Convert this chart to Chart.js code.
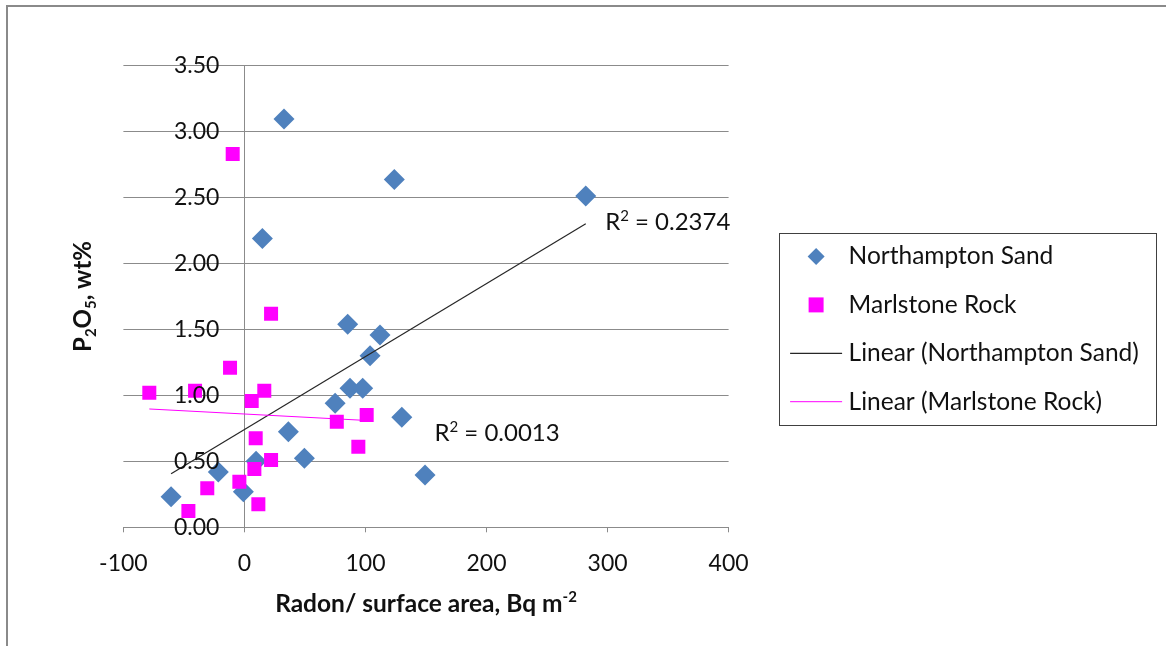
<!DOCTYPE html>
<html>
<head>
<meta charset="utf-8">
<script src="https://cdn.jsdelivr.net/npm/chart.js@4.4.1/dist/chart.umd.min.js"></script>
<style>
  html, body { margin: 0; padding: 0; background: #fff; overflow: hidden; }
  #wrap { width: 1166px; height: 646px; }
</style>
</head>
<body>
<div id="wrap"><canvas id="chart" width="1166" height="646"></canvas></div>
<script>
// Northampton Sand samples: radon per surface area (Bq m-2) and P2O5 (wt%)
const nsRadon = [32.7, 123.8, 282.0, 14.8, 85.3, 112.0, 103.8, 87.2, 97.7, 74.9, 130.0, 36.3, 49.5, 149.2, 9.6, -21.6, -60.6, -0.9];
const nsP2O5  = [3.095, 2.638, 2.512, 2.19, 1.54, 1.458, 1.30, 1.054, 1.054, 0.94, 0.834, 0.725, 0.523, 0.397, 0.50, 0.42, 0.232, 0.27];

// Marlstone Rock samples
const mrRadon = [-9.7, -78.6, -40.8, -11.9, 22.0, 16.4, 6.0, 9.3, 22.0, 8.2, -4.2, -30.7, -46.3, 11.5, 76.3, 101.0, 94.1];
const mrP2O5  = [2.83, 1.02, 1.036, 1.21, 1.62, 1.036, 0.957, 0.675, 0.51, 0.442, 0.346, 0.296, 0.124, 0.174, 0.80, 0.851, 0.611];

// Linear trendlines (y = slope * x + intercept) and their R² values
const nsTrend = { slope: 0.005534, intercept: 0.741, r2: '0.2374' };
const mrTrend = { slope: -0.000486, intercept: 0.859, r2: '0.0013' };

// Axis ticks
const xTicks = [-100, 0, 100, 200, 300, 400];
const yTicks = [0, 0.5, 1.0, 1.5, 2.0, 2.5, 3.0, 3.5];

const seriesNames = ['Northampton Sand', 'Marlstone Rock', 'Linear (Northampton Sand)', 'Linear (Marlstone Rock)'];

const FONT = 'Lato, "Open Sans", sans-serif';
const TEXT = '#111111';
const GRID = '#8b8b8b';
const BLUE = '#4F81BD';
const MAGENTA = '#FF00FF';
const TRENDDARK = '#262626';

const toPoints = (xs, ys) => xs.map((x, i) => ({ x, y: ys[i] }));
const trendPoints = (xs, t) => {
  const lo = Math.min(...xs), hi = Math.max(...xs);
  return [lo, hi].map(x => ({ x, y: t.slope * x + t.intercept }));
};

// Draws a run of text pieces, some of them sub- or superscripted
function drawRich(ctx, runs, x, baseline, size, weight, align) {
  const fontFor = r => `${weight} ${r.pos ? Math.round(size * 0.62) : size}px ${FONT}`;
  let total = 0;
  runs.forEach(r => { ctx.font = fontFor(r); total += ctx.measureText(r.t).width; });
  let cx = align === 'center' ? x - total / 2 : x;
  ctx.textAlign = 'left';
  ctx.textBaseline = 'alphabetic';
  runs.forEach(r => {
    ctx.font = fontFor(r);
    const dy = r.pos === 'sub' ? size * 0.22 : r.pos === 'sup' ? -size * 0.38 : 0;
    ctx.fillText(r.t, cx, baseline + dy);
    cx += ctx.measureText(r.t).width;
  });
}

const decor = {
  id: 'decor',
  beforeDraw(chart) {
    const ctx = chart.ctx;
    ctx.save();
    ctx.fillStyle = '#ffffff';
    ctx.fillRect(0, 0, chart.width, chart.height);
    // outer frame (top and left edges)
    ctx.strokeStyle = '#8a8a8a';
    ctx.lineWidth = 2;
    ctx.beginPath();
    ctx.moveTo(7, chart.height);
    ctx.lineTo(7, 6);
    ctx.lineTo(chart.width, 6);
    ctx.stroke();
    ctx.restore();
  },
  afterDatasetsDraw(chart) {
    // value-axis labels sit left of the axis line, which crosses at x = 0
    const ctx = chart.ctx;
    const xs = chart.scales.x, ys = chart.scales.y;
    const right = xs.getPixelForValue(0) - 25;
    ctx.save();
    ctx.fillStyle = TEXT;
    ctx.font = `normal 23px ${FONT}`;
    ctx.textAlign = 'right';
    ctx.textBaseline = 'middle';
    ys.ticks.forEach(t => ctx.fillText(t.value.toFixed(2), right, ys.getPixelForValue(t.value)));
    ctx.restore();
  },
  afterDraw(chart) {
    const ctx = chart.ctx;
    const area = chart.chartArea;
    const xs = chart.scales.x, ys = chart.scales.y;
    ctx.save();
    ctx.fillStyle = TEXT;

    // x axis title
    drawRich(ctx, [{ t: 'Radon/ surface area, Bq m' }, { t: '-2', pos: 'sup' }],
      (area.left + area.right) / 2, 611.5, 24.5, 'bold', 'center');

    // y axis title (rotated)
    ctx.save();
    ctx.translate(83, (area.top + area.bottom) / 2);
    ctx.rotate(-Math.PI / 2);
    drawRich(ctx, [{ t: 'P' }, { t: '2', pos: 'sub' }, { t: 'O' }, { t: '5', pos: 'sub' }, { t: ', wt%' }],
      0, 8, 24, 'bold', 'center');
    ctx.restore();

    // R² labels next to the trendlines
    const r2Labels = [
      { t: nsTrend.r2, x: 298, y: 2.315 },
      { t: mrTrend.r2, x: 157, y: 0.715 }
    ];
    r2Labels.forEach(l => {
      drawRich(ctx, [{ t: 'R' }, { t: '2', pos: 'sup' }, { t: ' = ' + l.t }],
        xs.getPixelForValue(l.x), ys.getPixelForValue(l.y) + 8, 24, 'normal', 'left');
    });

    // legend box
    const box = { left: area.right + 50, top: 232.5, width: 377, height: 191.5 };
    ctx.strokeStyle = '#404040';
    ctx.lineWidth = 1;
    ctx.strokeRect(Math.round(box.left) + 0.5, Math.round(box.top) + 0.5, Math.round(box.width), Math.round(box.height));
    const markX = box.left + 37.5;
    chart.data.datasets.forEach((ds, i) => {
      const cy = box.top + 24 + i * 48.4;
      if (ds.showLine) {
        ctx.strokeStyle = ds.borderColor;
        ctx.lineWidth = ds.borderWidth;
        ctx.beginPath();
        ctx.moveTo(markX - 26, cy);
        ctx.lineTo(markX + 26, cy);
        ctx.stroke();
      } else {
        ctx.fillStyle = ds.backgroundColor;
        Chart.helpers.drawPoint(ctx, {
          pointStyle: ds.pointStyle,
          radius: ds.pointStyle === 'rectRot' ? 8.5 : 10.6,
          rotation: 0,
          borderWidth: 0
        }, markX, cy);
      }
      ctx.fillStyle = TEXT;
      ctx.font = `normal 24.5px ${FONT}`;
      ctx.textAlign = 'left';
      ctx.textBaseline = 'middle';
      ctx.fillText(ds.label, box.left + 70, cy);
    });
    ctx.restore();
  }
};

new Chart(document.getElementById('chart'), {
  type: 'scatter',
  data: {
    datasets: [
      {
        label: seriesNames[0],
        data: toPoints(nsRadon, nsP2O5),
        pointStyle: 'rectRot',
        pointRadius: 10.5,
        pointHoverRadius: 10.5,
        backgroundColor: BLUE,
        borderColor: BLUE,
        pointBorderWidth: 0,
        order: 4
      },
      {
        label: seriesNames[1],
        data: toPoints(mrRadon, mrP2O5),
        pointStyle: 'rect',
        pointRadius: 9.9,
        pointHoverRadius: 9.9,
        backgroundColor: MAGENTA,
        borderColor: MAGENTA,
        pointBorderWidth: 0,
        order: 3
      },
      {
        label: seriesNames[2],
        data: trendPoints(nsRadon, nsTrend),
        showLine: true,
        pointRadius: 0,
        borderColor: TRENDDARK,
        borderWidth: 1.2,
        backgroundColor: TRENDDARK,
        order: 2
      },
      {
        label: seriesNames[3],
        data: trendPoints(mrRadon, mrTrend),
        showLine: true,
        pointRadius: 0,
        borderColor: MAGENTA,
        borderWidth: 1,
        backgroundColor: MAGENTA,
        order: 1
      }
    ]
  },
  options: {
    responsive: false,
    animation: false,
    devicePixelRatio: 1,
    layout: { padding: { left: 123.4, top: 65.7, right: 437.4, bottom: 0 } },
    plugins: {
      legend: { display: false },
      tooltip: { enabled: false },
      title: { display: false }
    },
    font: { family: FONT },
    scales: {
      x: {
        type: 'linear',
        position: 'bottom',
        min: xTicks[0],
        max: xTicks[xTicks.length - 1],
        afterBuildTicks: s => { s.ticks = xTicks.map(v => ({ value: v })); },
        afterFit: s => { s.height = 646 - 527.3; },
        grid: { drawOnChartArea: false, drawTicks: true, tickLength: 5, color: GRID, lineWidth: 1 },
        border: { display: true, color: GRID, width: 1 },
        ticks: {
          color: TEXT,
          padding: 17,
          font: { family: FONT, size: 23 },
          maxRotation: 0,
          callback: v => String(v)
        }
      },
      y: {
        type: 'linear',
        position: { x: 0 },
        min: yTicks[0],
        max: yTicks[yTicks.length - 1],
        afterBuildTicks: s => { s.ticks = yTicks.map(v => ({ value: v })); },
        grid: { drawOnChartArea: true, drawTicks: false, color: GRID, lineWidth: 1 },
        border: { display: true, color: GRID, width: 1 },
        ticks: { display: false }
      }
    }
  },
  plugins: [decor]
});
</script>
</body>
</html>
